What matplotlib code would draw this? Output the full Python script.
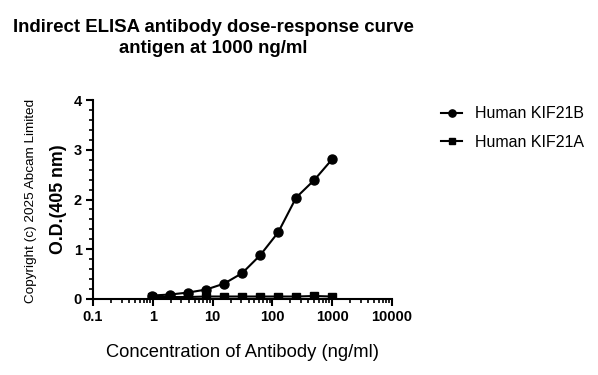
import numpy as np
import matplotlib.pyplot as plt
from matplotlib.ticker import LogLocator, MultipleLocator, FixedLocator

plt.rcParams['font.family'] = ['Liberation Sans', 'DejaVu Sans']

conc = [1000, 500, 250, 125, 62.5, 31.25, 15.63, 7.81, 3.91, 1.95, 0.98]   # ng/ml
kif21b = [2.81, 2.39, 2.04, 1.34, 0.88, 0.52, 0.31, 0.19, 0.13, 0.09, 0.07]
kif21a = [0.05, 0.06, 0.05, 0.05, 0.05, 0.05, 0.05, 0.05, 0.04, 0.04, 0.04]
xticks = [0.1, 1, 10, 100, 1000, 10000]
xtick_labels = ['0.1', '1', '10', '100', '1000', '10000']

fig = plt.figure(figsize=(5.98, 3.75), dpi=100)
ax = fig.add_axes([93/598, 1-299/375, 299/598, 199/375])

ax.plot(conc, kif21b, color='black', lw=1.5, marker='o', ms=6.5, label='Human KIF21B')
ax.plot(conc, kif21a, color='black', lw=1.5, marker='s', ms=6, label='Human KIF21A')

ax.set_xscale('log')
ax.set_xlim(0.1, 10000)
ax.set_ylim(0, 4)
ax.xaxis.set_major_locator(FixedLocator(xticks))
ax.set_xticklabels(xtick_labels)
ax.xaxis.set_minor_locator(LogLocator(base=10, subs=np.arange(2, 10)))
ax.yaxis.set_major_locator(MultipleLocator(1))
ax.yaxis.set_minor_locator(MultipleLocator(0.2))
ax.tick_params(which='major', length=5, width=1.5, labelsize=10.5, pad=3)
ax.tick_params(which='minor', length=3, width=1.2)
for lab in ax.get_xticklabels() + ax.get_yticklabels():
    lab.set_fontweight('bold')

for s in ['top', 'right']:
    ax.spines[s].set_visible(False)
for s in ['left', 'bottom']:
    ax.spines[s].set_linewidth(1.5)

ax.set_xlabel('Concentration of Antibody (ng/ml)', fontsize=13.2, labelpad=14)
ax.set_ylabel('O.D.(405 nm)', fontsize=12.8, fontweight='bold', labelpad=5)
fig.text(31/598, 1-201/375, 'Copyright (c) 2025 Abcam Limited', rotation=90,
         fontsize=9.7, ha='center', va='center')

fig.text(213/598, 1-38/375, 'Indirect ELISA antibody dose-response curve\nantigen at 1000 ng/ml',
         fontsize=13.4, fontweight='bold', ha='center', va='center', linespacing=1.25)

leg = ax.legend(loc='upper left', bbox_to_anchor=(427/598, 1-92/375), bbox_transform=fig.transFigure,
                frameon=False, fontsize=11.5, handlelength=1.3, markerscale=0.8,
                labelspacing=0.85, handletextpad=0.8)

fig.savefig('out.png', dpi=100)
